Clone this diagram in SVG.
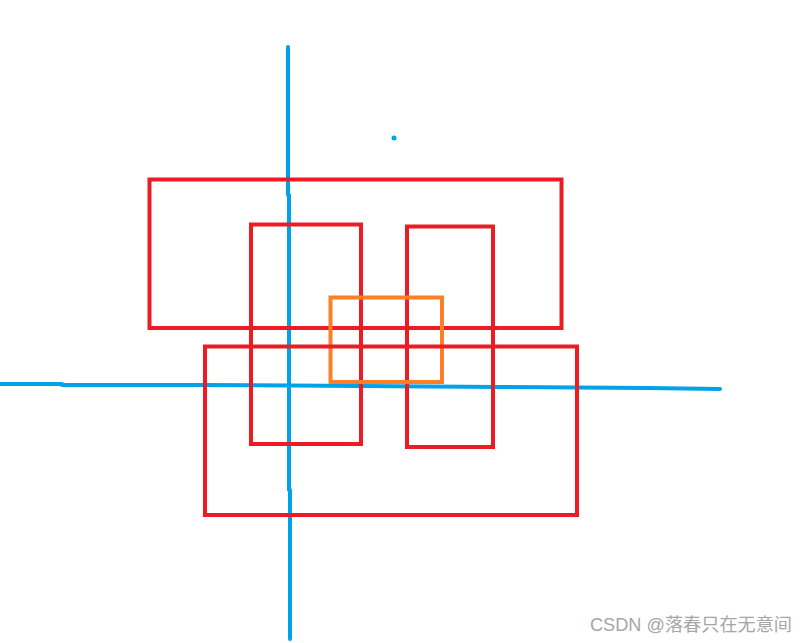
<svg xmlns="http://www.w3.org/2000/svg" width="808" height="643" viewBox="0 0 808 643">
<style>
.ax{stroke:#00A2E8;stroke-width:4;fill:none;stroke-linecap:round;stroke-linejoin:round}
.r{stroke:#ED1C24;stroke-width:4;fill:none}
.o{stroke:#FF7F27;stroke-width:4;fill:none}
.wm{font-family:"Liberation Sans","Noto Sans CJK SC",sans-serif;font-size:18px;fill:#A6A6A6}
</style>
<rect width="808" height="643" fill="#fff"/>
<g id="connectors">
<polyline class="ax" points="0,384 62,384 62,385 203,385 500,387 647,388 720,389"/>
<polyline class="ax" points="288,47 288,195 289,195 289,490 290,490 290,639"/>
<circle cx="394" cy="138" r="2.5" fill="#00A2E8"/>
</g>
<g id="rect1"><rect class="r" x="149.5" y="179.5" width="412" height="148.5"/></g>
<g id="rect2"><rect class="r" x="251" y="224.5" width="110" height="219.5"/></g>
<g id="rect3"><rect class="r" x="407" y="226.5" width="86" height="220.5"/></g>
<g id="rect4"><rect class="o" x="330.5" y="297.5" width="111.5" height="84.5"/></g>
<g id="rect5"><rect class="r" x="205" y="346.5" width="372" height="168.5"/></g>
<text class="wm" x="590" y="631" textLength="202" lengthAdjust="spacingAndGlyphs">CSDN @落春只在无意间</text>
</svg>
